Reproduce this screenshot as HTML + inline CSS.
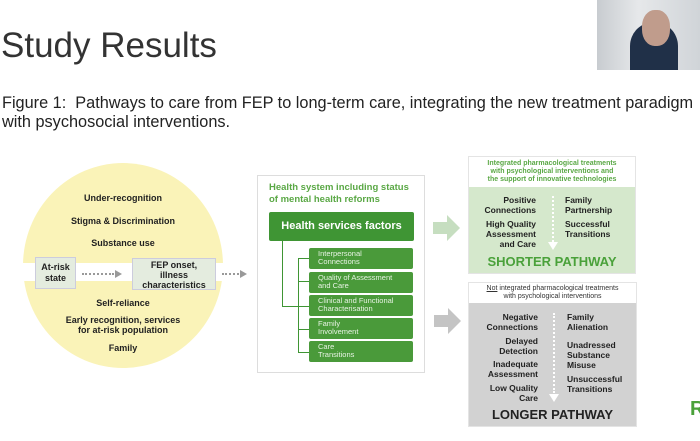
<!DOCTYPE html>
<html><head><meta charset="utf-8"><style>
body{margin:0;width:700px;height:441px;background:#fff;position:relative;overflow:hidden;font-family:"Liberation Sans",sans-serif;}
.a{position:absolute;}
.c{text-align:center;font-weight:bold;font-size:9px;color:#222;white-space:nowrap;}
.sb{position:absolute;left:309px;width:104px;height:21px;background:#4a9a3a;border-radius:2px;color:#e8f3e4;font-size:7.5px;line-height:8px;padding:2px 0 0 9px;box-sizing:border-box;}
.r{font-weight:bold;font-size:8.5px;color:#222;line-height:10px;}
</style></head><body>
<div class="a" style="left:597px;top:0;width:103px;height:70px;background:linear-gradient(90deg,#c8ccd0,#e6e8ea 40%,#d0d4d8);"></div>
<div class="a" style="left:630px;top:22px;width:48px;height:48px;border-radius:50% 50% 0 0;background:#203048;"></div>
<div class="a" style="left:642px;top:10px;width:28px;height:36px;border-radius:45%;background:#c09c8c;"></div>
<div class="a" style="left:1px;top:26px;font-size:35px;color:#333;">Study Results</div>
<div class="a" style="left:2px;top:94px;font-size:16.3px;color:#222;line-height:19px;white-space:nowrap;">Figure 1:&nbsp; Pathways to care from FEP to long-term care, integrating the new treatment paradigm<br>with psychosocial interventions.</div>

<div class="a" style="left:23px;top:163px;width:200px;height:205px;border-radius:50%;background:#faf3b8;"></div>
<div class="a" style="left:20px;top:263px;width:210px;height:18px;background:#fff;"></div>
<div class="a c" style="left:23px;width:200px;top:193px;">Under-recognition</div>
<div class="a c" style="left:23px;width:200px;top:216px;">Stigma &amp; Discrimination</div>
<div class="a c" style="left:23px;width:200px;top:238px;">Substance use</div>
<div class="a c" style="left:23px;width:200px;top:298px;">Self-reliance</div>
<div class="a c" style="left:23px;width:200px;top:315px;line-height:10px;">Early recognition, services<br>for at-risk population</div>
<div class="a c" style="left:23px;width:200px;top:343px;">Family</div>
<div class="a c" style="left:35px;top:257px;width:41px;height:32px;background:#e4ecdf;border:1px solid #ccd;line-height:11px;padding-top:4px;box-sizing:border-box;">At-risk<br>state</div>
<div class="a c" style="left:132px;top:258px;width:84px;height:32px;background:#e4ecdf;border:1px solid #ccd;line-height:10px;padding-top:1px;box-sizing:border-box;">FEP onset,<br>illness<br>characteristics</div>
<div class="a" style="left:82px;top:273px;width:32px;border-top:2px dotted #999;"></div>
<div class="a" style="left:115px;top:270px;border-left:7px solid #999;border-top:4px solid transparent;border-bottom:4px solid transparent;"></div>
<div class="a" style="left:222px;top:273px;width:17px;border-top:2px dotted #999;"></div>
<div class="a" style="left:240px;top:270px;border-left:7px solid #999;border-top:4px solid transparent;border-bottom:4px solid transparent;"></div>

<div class="a" style="left:257px;top:175px;width:168px;height:198px;border:1px solid #ddd;box-sizing:border-box;"></div>
<div class="a" style="left:269px;top:182px;color:#5aa845;font-weight:bold;font-size:9.5px;line-height:12px;white-space:nowrap;">Health system including status<br>of mental health reforms</div>
<div class="a" style="left:269px;top:212px;width:145px;height:29px;background:#3f9534;border-radius:2px;color:#fff;font-weight:bold;font-size:11px;line-height:29px;text-align:center;">Health services factors</div>
<div class="a" style="left:282px;top:241px;width:27px;height:66px;border-left:1px solid #3f9534;border-bottom:1px solid #3f9534;box-sizing:border-box;"></div>
<div class="a" style="left:298px;top:258px;width:11px;height:95px;border:1px solid #3f9534;border-right:none;box-sizing:border-box;"></div>
<div class="a" style="left:298px;top:281px;width:11px;border-top:1px solid #3f9534;"></div>
<div class="a" style="left:298px;top:329px;width:11px;border-top:1px solid #3f9534;"></div>
<div class="sb" style="top:248px;">Interpersonal<br>Connections</div>
<div class="sb" style="top:272px;">Quality of Assessment<br>and Care</div>
<div class="sb" style="top:295px;">Clinical and Functional<br>Characterisation</div>
<div class="sb" style="top:318px;">Family<br>Involvement</div>
<div class="sb" style="top:341px;">Care<br>Transitions</div>

<div class="a" style="left:433px;top:222px;width:14px;height:12px;background:#c6dec0;"></div>
<div class="a" style="left:447px;top:215px;border-left:13px solid #c6dec0;border-top:13px solid transparent;border-bottom:13px solid transparent;"></div>
<div class="a" style="left:434px;top:315px;width:14px;height:12px;background:#c4c4c4;"></div>
<div class="a" style="left:448px;top:308px;border-left:13px solid #c4c4c4;border-top:13px solid transparent;border-bottom:13px solid transparent;"></div>

<div class="a" style="left:468px;top:156px;width:168px;height:118px;background:#d5e8cc;border:1px solid #e4e4e4;box-sizing:border-box;"></div>
<div class="a" style="left:469px;top:157px;width:166px;height:30px;background:#fff;color:#5aa845;font-size:7px;font-weight:bold;text-align:center;line-height:8px;padding-top:3px;box-sizing:border-box;">Integrated pharmacological treatments<br>with psychological interventions and<br>the support of innovative technologies</div>
<div class="a r" style="left:470px;width:66px;top:195px;text-align:right;">Positive<br>Connections</div>
<div class="a r" style="left:470px;width:66px;top:219px;text-align:right;">High Quality<br>Assessment<br>and Care</div>
<div class="a r" style="left:565px;top:195px;">Family<br>Partnership</div>
<div class="a r" style="left:565px;top:219px;">Successful<br>Transitions</div>
<div class="a" style="left:552px;top:196px;height:46px;border-left:2px dotted #fff;"></div>
<div class="a" style="left:548px;top:242px;border-top:8px solid #fff;border-left:5px solid transparent;border-right:5px solid transparent;"></div>
<div class="a" style="left:468px;top:254px;width:168px;text-align:center;color:#4aa13a;font-weight:bold;font-size:13px;">SHORTER PATHWAY</div>

<div class="a" style="left:468px;top:282px;width:169px;height:145px;background:#d2d2d2;border:1px solid #e4e4e4;box-sizing:border-box;"></div>
<div class="a" style="left:469px;top:283px;width:167px;height:20px;background:#fff;color:#333;font-size:7px;text-align:center;line-height:8px;padding-top:2px;box-sizing:border-box;"><u>Not</u> integrated pharmacological treatments<br>with psychological interventions</div>
<div class="a r" style="left:470px;width:68px;top:312px;text-align:right;">Negative<br>Connections</div>
<div class="a r" style="left:470px;width:68px;top:336px;text-align:right;">Delayed<br>Detection</div>
<div class="a r" style="left:470px;width:68px;top:359px;text-align:right;">Inadequate<br>Assessment</div>
<div class="a r" style="left:470px;width:68px;top:383px;text-align:right;">Low Quality<br>Care</div>
<div class="a r" style="left:567px;top:312px;">Family<br>Alienation</div>
<div class="a r" style="left:567px;top:340px;">Unadressed<br>Substance<br>Misuse</div>
<div class="a r" style="left:567px;top:374px;">Unsuccessful<br>Transitions</div>
<div class="a" style="left:553px;top:313px;height:80px;border-left:2px dotted #fff;"></div>
<div class="a" style="left:549px;top:394px;border-top:8px solid #fff;border-left:5px solid transparent;border-right:5px solid transparent;"></div>
<div class="a" style="left:468px;top:407px;width:169px;text-align:center;color:#222;font-weight:bold;font-size:13px;">LONGER PATHWAY</div>

<div class="a" style="left:690px;top:398px;color:#4aa13a;font-weight:bold;font-size:20px;">R</div>
</body></html>
